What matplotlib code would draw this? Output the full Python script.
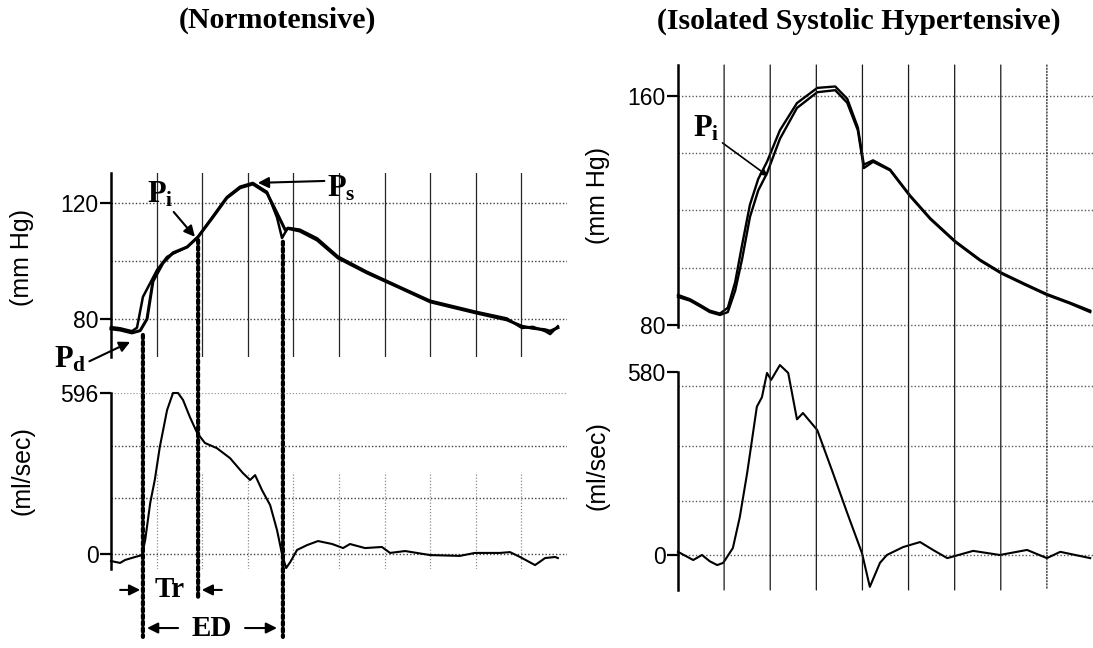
import matplotlib
matplotlib.use("Agg")
import matplotlib.pyplot as plt
from matplotlib.patches import ConnectionPatch

plt.rcParams['font.family'] = ['Liberation Sans', 'DejaVu Sans']
plt.rcParams['mathtext.fontset'] = 'custom'
plt.rcParams['mathtext.rm'] = 'Liberation Serif'
plt.rcParams['mathtext.bf'] = 'Liberation Serif:bold'
plt.rcParams['mathtext.it'] = 'Liberation Serif:italic'

# ---- data (time in grid divisions) ----
# normotensive pressure, two superimposed beats
nt_t_a = [0.00, 0.20, 0.46, 0.64, 0.79, 0.92, 1.14, 1.36, 1.67, 1.91, 2.24, 2.54, 2.83, 3.11, 3.42,
          3.64, 3.82, 3.88, 4.14, 4.52, 4.98, 5.61, 6.34, 7.00, 8.00, 8.68, 9.01, 9.25, 9.52, 9.63, 9.80]
nt_p_a = [76.6, 76.2, 75.2, 76.0, 80.0, 93.0, 99.3, 102.8, 104.8, 108.3, 115.2, 121.7, 125.2, 126.5, 123.4,
          116.5, 110.7, 111.2, 110.3, 107.2, 101.0, 95.9, 90.7, 85.9, 82.1, 79.7, 77.5, 76.8, 76.3, 75.8, 77.0]
nt_t_b = [0.00, 0.20, 0.46, 0.57, 0.70, 1.01, 1.23, 1.36, 1.67, 1.91, 2.24, 2.54, 2.83, 3.11, 3.42,
          3.64, 3.75, 3.88, 4.14, 4.52, 4.98, 5.61, 6.34, 7.00, 8.00, 8.68, 9.01, 9.25, 9.52, 9.63, 9.80]
nt_p_b = [77.2, 76.8, 75.8, 77.0, 87.6, 96.9, 101.4, 102.5, 104.8, 108.3, 115.5, 122.0, 125.6, 126.9, 123.8,
          115.0, 107.9, 111.4, 110.8, 107.8, 101.5, 96.3, 91.0, 86.3, 82.5, 80.2, 76.9, 77.3, 75.8, 74.8, 77.5]

# normotensive flow
nt_ft = [0.00, 0.20, 0.31, 0.53, 0.68, 0.75, 0.86, 0.96, 1.07, 1.23, 1.36, 1.47, 1.58, 1.73, 1.89, 2.06,
         2.32, 2.61, 2.89, 3.05, 3.16, 3.31, 3.49, 3.64, 3.75, 3.84, 3.93, 4.08, 4.30, 4.54, 4.85, 5.09,
         5.24, 5.57, 5.94, 6.12, 6.45, 7.00, 7.65, 7.98, 8.53, 8.75, 8.97, 9.30, 9.52, 9.74, 9.80]
nt_f = [-26, -33, -22, -11, -4, 52, 189, 274, 396, 533, 596, 596, 570, 507, 448, 411,
        392, 355, 300, 274, 292, 237, 181, 89, 0, -52, -30, 15, 33, 48, 37, 22,
        37, 22, 26, 4, 11, -4, -7, 4, 4, 7, -11, -41, -15, -11, -15]

# isolated systolic hypertensive pressure, two beats
ish_t = [0.00, 0.26, 0.48, 0.69, 0.91, 1.08, 1.24, 1.39, 1.56, 1.74, 1.93, 2.21, 2.58, 3.02, 3.41,
         3.67, 3.90, 4.03, 4.23, 4.60, 5.03, 5.47, 6.01, 6.55, 7.01, 7.53, 8.00, 8.50, 8.94]
ish_p_a = [90.5, 89.0, 87.0, 85.0, 84.0, 86.0, 95.0, 108.0, 122.0, 131.0, 137.0, 148.0, 157.5, 162.8, 163.3,
           159.0, 149.0, 136.0, 137.5, 134.3, 125.3, 117.3, 109.3, 102.8, 98.3, 94.3, 90.8, 87.8, 85.0]
ish_p_b = [89.8, 88.5, 86.5, 84.5, 83.5, 84.5, 92.0, 103.0, 117.7, 127.0, 133.0, 145.0, 155.8, 161.3, 162.0,
           157.6, 148.0, 134.8, 137.0, 134.0, 125.0, 117.0, 109.0, 102.5, 98.0, 94.0, 90.5, 87.5, 84.5]

# isolated systolic hypertensive flow
ish_ft = [0.00, 0.33, 0.52, 0.69, 0.85, 0.98, 1.19, 1.34, 1.50, 1.71, 1.82, 1.93, 2.02, 2.21, 2.39,
          2.58, 2.71, 3.02, 3.36, 3.67, 3.99, 4.16, 4.38, 4.53, 4.88, 5.25, 5.53, 5.84, 6.40, 6.98,
          7.57, 8.00, 8.29, 8.94]
ish_f = [10, -16, 0, -20, -32, -25, 22, 120, 260, 470, 500, 577, 555, 602, 577,
         430, 450, 396, 260, 133, 6, -101, -25, 0, 25, 41, 16, -10, 13, 0,
         16, -10, 10, -10]

# events: ejection onset, inflection (Pi), end of ejection
nt_events = [0.70, 1.91, 3.77]
nt_event_p = [74.5, 107.2, 106.6]
nt_event_bottom = [-307, -170, -307]

W, H = 1093, 648
fig = plt.figure(figsize=(W / 100, H / 100), dpi=100)


def px_axes(x0, x1, y0, y1):
    # y0 top, y1 bottom in pixels
    return fig.add_axes([x0 / W, 1 - y1 / H, (x1 - x0) / W, (y1 - y0) / H])


ax_np = px_axes(111, 567, 173, 357)
ax_nf = px_axes(111, 567, 393, 569)
ax_hp = px_axes(678, 1093, 65, 327)
ax_hf = px_axes(678, 1093, 372, 590)

ax_np.set_xlim(0, 10)
ax_nf.set_xlim(0, 10)
ax_hp.set_xlim(0, 9.0)
ax_hf.set_xlim(0, 9.0)
ax_np.set_ylim(66.9, 130.3)
ax_nf.set_ylim(-55.5, 596)
ax_hp.set_ylim(79.3, 170.8)
ax_hf.set_ylim(-111, 580)

dot = (0, (1, 1.5))
for ax in [ax_np, ax_nf, ax_hp, ax_hf]:
    for s in ['top', 'right', 'bottom']:
        ax.spines[s].set_visible(False)
    ax.spines['left'].set_linewidth(1.8)
    ax.set_xticks([])
    ax.tick_params(axis='y', direction='out', length=8, width=1.6, pad=1, labelsize=16.5)
    ax.patch.set_alpha(0)

ax_np.set_yticks([80, 120])
ax_nf.set_yticks([0, 596])
ax_hp.set_yticks([80, 160])
ax_hf.set_yticks([0, 580])

# grid
for g in [80, 100, 120]:
    ax_np.axhline(g, color='0.25', lw=1.0, ls=dot, zorder=1)
for k in range(1, 10):
    ax_np.axvline(k, color='0.15', lw=0.9, zorder=1)
for g in [0, 207, 400]:
    ax_nf.axhline(g, color='0.25', lw=1.0, ls=dot, zorder=1)
ax_nf.axhline(596, color='0.6', lw=0.9, ls=dot, zorder=1)
for k in range(1, 10):
    ax_nf.axvline(k, ymin=0.0, ymax=0.55, color='0.55', lw=0.9, ls=dot, zorder=1)

for g in [80, 100, 120, 140, 160]:
    ax_hp.axhline(g, color='0.35', lw=1.0, ls=dot, zorder=1)
for g in [0, 170, 345, 535]:
    ax_hf.axhline(g, color='0.35', lw=1.0, ls=dot, zorder=1)
for k in range(1, 9):
    style = '-' if k < 8 else dot
    con = ConnectionPatch(xyA=(k, 170.8), coordsA=ax_hp.transData,
                          xyB=(k, -111), coordsB=ax_hf.transData,
                          color='0.1', lw=0.9, ls=style, zorder=1)
    fig.add_artist(con)

# traces
ax_np.plot(nt_t_a, nt_p_a, color='k', lw=2.2, clip_on=False, zorder=3)
ax_np.plot(nt_t_b, nt_p_b, color='k', lw=1.8, clip_on=False, zorder=3)
ax_nf.plot(nt_ft, nt_f, color='k', lw=1.5, clip_on=False, zorder=3)
ax_hp.plot(ish_t, ish_p_a, color='k', lw=1.7, clip_on=False, zorder=3)
ax_hp.plot(ish_t, ish_p_b, color='k', lw=1.7, clip_on=False, zorder=3)
ax_hf.plot(ish_ft, ish_f, color='k', lw=1.5, clip_on=False, zorder=3)

# event lines
for t, p, b in zip(nt_events, nt_event_p, nt_event_bottom):
    con = ConnectionPatch(xyA=(t, p), coordsA=ax_np.transData,
                          xyB=(t, b), coordsB=ax_nf.transData,
                          color='k', lw=3.0, ls=(0, (0.8, 0.8)), zorder=4)
    fig.add_artist(con)

# labels
lab = dict(fontsize=18)
ax_np.set_ylabel('(mm Hg)', **lab)
ax_np.yaxis.set_label_coords(-0.168, 0.54)
ax_nf.set_ylabel('(ml/sec)', **lab)
ax_nf.yaxis.set_label_coords(-0.168, 0.56)
ax_hp.set_ylabel('(mm Hg)', **lab)
ax_hp.yaxis.set_label_coords(-0.165, 0.50)
ax_hf.set_ylabel('(ml/sec)', **lab)
ax_hf.yaxis.set_label_coords(-0.165, 0.57)

title_kw = dict(fontsize=21.5, fontweight='bold', family='Liberation Serif', ha='center', va='center')
fig.text(277 / W, 1 - 20 / H, '(Normotensive)', **title_kw)
fig.text(859 / W, 1 - 21 / H, '(Isolated Systolic Hypertensive)', **title_kw)

arr = dict(arrowstyle='-|>', color='k', lw=1.5, mutation_scale=16, shrinkA=0, shrinkB=0)
ann = dict(fontsize=22, annotation_clip=False)
ax_np.annotate(r'$\mathbf{P_i}$', xy=(1.84, 108.3), xytext=(0.80, 123.0), ha='left', va='center',
               arrowprops=dict(arr, relpos=(0.9, 0.0)), **ann)
ax_np.annotate(r'$\mathbf{P_s}$', xy=(3.22, 126.9), xytext=(4.74, 125.0), ha='left', va='center',
               arrowprops=dict(arr, relpos=(0.0, 0.75)), **ann)
ax_np.annotate(r'$\mathbf{P_d}$', xy=(0.42, 72.1), xytext=(-1.25, 66.0), ha='left', va='center',
               arrowprops=dict(arr, relpos=(1.0, 0.4)), **ann)
ax_hp.annotate(r'$\mathbf{P_i}$', xy=(1.95, 132.0), xytext=(0.33, 148.5), ha='left', va='center',
               arrowprops=dict(arr, relpos=(1.0, 0.1), lw=1.2, mutation_scale=10), **ann)

# Tr and ED
ax_nf.annotate('', xy=(0.64, -133), xytext=(0.20, -133), arrowprops=arr, annotation_clip=False)
ax_nf.annotate('', xy=(1.99, -133), xytext=(2.43, -133), arrowprops=arr, annotation_clip=False)
ax_nf.text(1.29, -133, 'Tr', fontsize=21, fontweight='bold', family='Liberation Serif',
           ha='center', va='center', clip_on=False)
ax_nf.annotate('', xy=(0.79, -274), xytext=(1.47, -274), arrowprops=arr, annotation_clip=False)
ax_nf.annotate('', xy=(3.64, -274), xytext=(2.94, -274), arrowprops=arr, annotation_clip=False)
ax_nf.text(2.21, -274, 'ED', fontsize=21, fontweight='bold', family='Liberation Serif',
           ha='center', va='center', clip_on=False)

fig.savefig('out.png', dpi=100)
